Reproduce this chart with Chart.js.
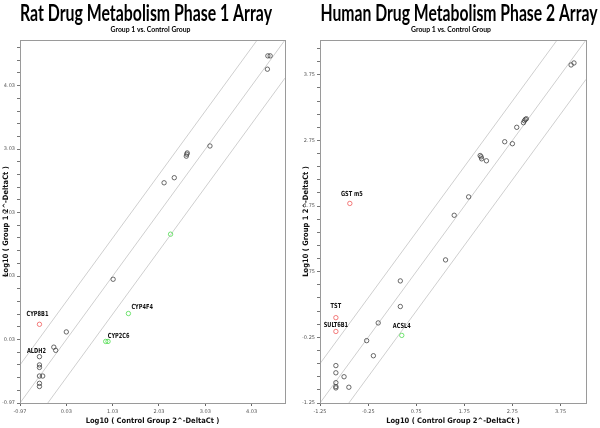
<!DOCTYPE html>
<html>
<head>
<meta charset="utf-8">
<script src="https://cdn.jsdelivr.net/npm/chart.js@4.4.1/dist/chart.umd.min.js"></script>
<style>
  html, body { margin: 0; padding: 0; background: #fff; }
  #wrap { position: relative; width: 600px; height: 428px; }
  canvas { position: absolute; top: 0; }
</style>
</head>
<body>
<div id="wrap">
  <canvas id="rat" width="300" height="428" style="left:0"></canvas>
  <canvas id="human" width="300" height="428" style="left:300px"></canvas>
</div>
<script>
// ---- Rat Drug Metabolism Phase 1 Array (log10 2^-DeltaCt) ----
const ratRange = [-0.97, 4.75];
const ratTicks = [-0.97, 0.03, 1.03, 2.03, 3.03, 4.03];
const ratNormalX = [-0.55, 4.38, 4.43, 4.37, 2.62, 2.63, 2.64, 3.13, 2.36, 2.14, 1.04, 0.03, -0.24, -0.20, -0.55, -0.55, -0.55, -0.48, -0.55, -0.55];
const ratNormalY = [-0.24, 4.50, 4.50, 4.29, 2.92, 2.95, 2.97, 3.08, 2.58, 2.50, 0.98, 0.15, -0.09, -0.14, -0.37, -0.41, -0.545, -0.545, -0.66, -0.71];
const ratNormalNames = ['ALDH2'];
const ratUpX = [-0.55];
const ratUpY = [0.27];
const ratUpNames = ['CYP8B1'];
const ratDownX = [1.37, 0.88, 0.93, 2.28];
const ratDownY = [0.44, 0.00, 0.00, 1.69];
const ratDownNames = ['CYP4F4', 'CYP2C6'];

// ---- Human Drug Metabolism Phase 2 Array ----
const humanRange = [-1.25, 4.28];
const humanTicks = [-1.25, -0.25, 0.75, 1.75, 2.75, 3.75];
const humanNormalX = [3.97, 4.03, 2.98, 3.00, 3.02, 3.04, 2.84, 2.59, 2.75, 2.08, 2.10, 2.11, 2.21, 1.84, 1.54, 1.36, 0.42, 0.42, -0.04, -0.28, -0.14, -0.92, -0.92, -0.75, -0.92, -0.92, -0.92, -0.65];
const humanNormalY = [3.90, 3.93, 3.02, 3.05, 3.07, 3.08, 2.95, 2.73, 2.70, 2.52, 2.50, 2.47, 2.44, 1.89, 1.61, 0.93, 0.61, 0.22, -0.03, -0.30, -0.53, -0.68, -0.79, -0.85, -0.94, -1.00, -1.02, -1.01];
const humanNormalNames = [];
const humanUpX = [-0.63, -0.92, -0.92];
const humanUpY = [1.79, 0.05, -0.16];
const humanUpNames = ['GST m5', 'TST', 'SULT6B1'];
const humanDownX = [0.45];
const humanDownY = [-0.22];
const humanDownNames = ['ACSL4'];

// fold-change boundary lines: y = x + offset (log10 4 ~ 0.6)
const foldOffsets = [0.6, 0, -0.6];

// label placement (dx, dy, align) relative to the point
const labelPos = {
  'CYP8B1': [-2, -10, 'center'],
  'ALDH2': [-3, -5, 'center'],
  'CYP4F4': [3, -6, 'left'],
  'CYP2C6': [2, -5, 'left'],
  'GST m5': [2, -9, 'center'],
  'TST': [0, -11, 'center'],
  'SULT6B1': [0, -6, 'center'],
  'ACSL4': [0, -9, 'center'],
};

const toXY = (xs, ys) => xs.map((x, i) => ({x, y: ys[i]}));

const decor = {
  id: 'decor',
  afterDraw(chart, args, o) {
    const {ctx, chartArea: a} = chart;
    ctx.save();
    // frame
    ctx.strokeStyle = '#9a9a9a';
    ctx.lineWidth = 1;
    ctx.strokeRect(Math.round(a.left) + 0.5, Math.round(a.top) + 0.5, Math.round(a.right - a.left), Math.round(a.bottom - a.top));
    // titles
    ctx.fillStyle = '#000';
    ctx.textAlign = 'center';
    ctx.textBaseline = 'alphabetic';
    ctx.font = 'bold 23px Lato, "Open Sans", sans-serif';
    ctx.fillText(o.title, o.titleX, 21, o.titleW);
    ctx.font = 'bold 7px Lato, "Open Sans", sans-serif';
    ctx.textBaseline = 'middle';
    ctx.fillText(o.subtitle, o.subX, 29.5, 80);
    // point labels
    ctx.font = 'bold 7px "Liberation Sans Narrow", "DejaVu Sans Condensed", sans-serif';
    chart.data.datasets.forEach((ds, di) => {
      if (!ds.names) return;
      const meta = chart.getDatasetMeta(di);
      ds.names.forEach((name, i) => {
        if (!name) return;
        const el = meta.data[i];
        const p = labelPos[name] || [0, -8, 'center'];
        ctx.textAlign = p[2];
        const w = ctx.measureText(name).width * 0.8;
        ctx.fillStyle = '#111';
        ctx.fillText(name, el.x + p[0], el.y + p[1], w);
      });
    });
    ctx.restore();
  }
};

function pointSet(xs, ys, names, color) {
  return {
    data: toXY(xs, ys),
    names,
    pointStyle: 'circle',
    pointRadius: 2.2,
    pointBorderWidth: 0.8,
    pointBorderColor: color,
    pointBackgroundColor: 'rgba(0,0,0,0)',
    showLine: false,
  };
}

function makeChart(id, cfg) {
  const [lo, hi] = cfg.range;
  const lines = foldOffsets.map(d => ({
    data: [{x: lo, y: lo + d}, {x: hi, y: hi + d}],
    showLine: true,
    borderColor: '#cfcfcf',
    borderWidth: 1,
    pointRadius: 0,
  }));
  const tickFont = {size: 5, family: '"DejaVu Sans", sans-serif'};
  const titleFont = {size: 7.5, weight: 'bold', family: '"Liberation Sans Narrow", "DejaVu Sans Condensed", sans-serif'};
  return new Chart(document.getElementById(id), {
    type: 'scatter',
    data: {
      datasets: [
        pointSet(cfg.upX, cfg.upY, cfg.upNames, '#f05a5a'),
        pointSet(cfg.downX, cfg.downY, cfg.downNames, '#4fdc4f'),
        pointSet(cfg.normX, cfg.normY, cfg.normNames, '#444'),
        ...lines,
      ]
    },
    options: {
      responsive: false,
      animation: false,
      events: [],
      layout: {padding: {top: 40, left: 0, right: cfg.padRight, bottom: 0}},
      plugins: {
        legend: {display: false},
        tooltip: {enabled: false},
        decor: cfg.decor,
      },
      scales: {
        x: {
          type: 'linear', min: lo, max: hi,
          afterBuildTicks: s => { s.ticks = cfg.ticks.map(v => ({value: v})); },
          afterFit: s => { s.height = 25; },
          ticks: {font: tickFont, color: '#555', padding: 3, maxRotation: 0, autoSkip: false,
                  callback: v => v.toFixed(2)},
          grid: {drawOnChartArea: false, drawTicks: true, tickLength: 3, color: '#666'},
          border: {color: '#555'},
          title: {display: true, text: 'Log10 ( Control Group 2^-DeltaCt )', font: titleFont, color: '#111',
                  padding: {top: 0, bottom: 2}},
        },
        y: {
          type: 'linear', min: lo, max: hi,
          afterBuildTicks: s => {
            const t = [];
            cfg.ticks.forEach(v => { for (let k = 0; k < 5; k++) { const m = v + k * 0.2; if (m <= hi) t.push({value: m, major: k === 0}); } });
            s.ticks = t;
          },
          afterFit: s => { s.width = 20; },
          ticks: {font: tickFont, color: '#555', padding: 2, autoSkip: false,
                  callback: function (v, i, t) { return t[i].major ? v.toFixed(2) : ''; }},
          grid: {drawOnChartArea: false, drawTicks: true, tickLength: 3, color: '#777'},
          border: {color: '#777'},
          title: {display: true, text: 'Log10 ( Group 1 2^-DeltaCt )', font: titleFont, color: '#111',
                  padding: {top: 2, bottom: 0}},
        }
      }
    },
    plugins: [decor]
  });
}

makeChart('rat', {
  range: ratRange, ticks: ratTicks, padRight: 15,
  normX: ratNormalX, normY: ratNormalY, normNames: ratNormalNames,
  upX: ratUpX, upY: ratUpY, upNames: ratUpNames,
  downX: ratDownX, downY: ratDownY, downNames: ratDownNames,
  decor: {title: 'Rat Drug Metabolism Phase 1 Array', titleX: 146, titleW: 252,
          subtitle: 'Group 1 vs. Control Group', subX: 150.5},
});

makeChart('human', {
  range: humanRange, ticks: humanTicks, padRight: 14,
  normX: humanNormalX, normY: humanNormalY, normNames: humanNormalNames,
  upX: humanUpX, upY: humanUpY, upNames: humanUpNames,
  downX: humanDownX, downY: humanDownY, downNames: humanDownNames,
  decor: {title: 'Human Drug Metabolism Phase 2 Array', titleX: 159, titleW: 277,
          subtitle: 'Group 1 vs. Control Group', subX: 151},
});
</script>
</body>
</html>
